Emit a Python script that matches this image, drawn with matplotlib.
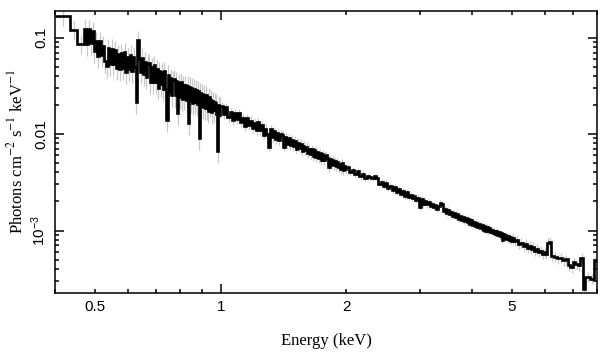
import numpy as np
import matplotlib
matplotlib.use("Agg")
import matplotlib.pyplot as plt
from matplotlib.ticker import FixedLocator, FuncFormatter, NullFormatter

plt.rcParams['mathtext.fontset'] = 'stix'

# Unfolded spectrum.
# *_edges: lower bin edges in keV, *_logflux: log10(photons cm^-2 s^-1 keV^-1)

first_edges = [0.400, 0.435, 0.452]
first_logflux = [-0.772, -0.917, -1.062]

soft_edges = [0.470, 0.475, 0.480, 0.485, 0.490, 0.495, 0.500, 0.505, 0.510, 0.515,
              0.520, 0.525, 0.530, 0.535, 0.540, 0.545, 0.550, 0.555, 0.560, 0.565,
              0.570, 0.575, 0.580, 0.585, 0.590, 0.595, 0.600, 0.605, 0.610, 0.615,
              0.620, 0.625, 0.630, 0.635, 0.640, 0.645, 0.650, 0.655, 0.660, 0.665,
              0.670, 0.675, 0.680, 0.685, 0.690, 0.695, 0.700, 0.705, 0.710, 0.715,
              0.720, 0.725, 0.730, 0.735, 0.740, 0.745, 0.750, 0.755, 0.760, 0.765,
              0.770, 0.775, 0.780, 0.785, 0.790, 0.795, 0.800, 0.805, 0.810, 0.815,
              0.820, 0.825, 0.830, 0.835, 0.840, 0.845, 0.850, 0.855, 0.860, 0.865,
              0.870, 0.875, 0.880, 0.885, 0.890, 0.895, 0.900, 0.905, 0.910, 0.915,
              0.920, 0.925, 0.930, 0.935, 0.940, 0.945, 0.950, 0.955, 0.960, 0.965,
              0.970, 0.975, 0.980, 0.985, 0.990, 0.995]
soft_logflux = [-0.908, -1.065, -0.912, -1.059, -0.936, -1.143, -1.040, -1.187, -1.034, -1.181,
                -1.085, -1.247, -1.299, -1.111, -1.273, -1.115, -1.277, -1.129, -1.311, -1.173,
                -1.330, -1.161, -1.312, -1.153, -1.355, -1.206, -1.328, -1.178, -1.348, -1.199,
                -1.300, -1.663, -1.030, -1.220, -1.360, -1.210, -1.380, -1.250, -1.410, -1.270,
                -1.264, -1.462, -1.310, -1.458, -1.286, -1.464, -1.322, -1.520, -1.348, -1.486,
                -1.356, -1.533, -1.351, -1.528, -1.850, -1.383, -1.561, -1.418, -1.596, -1.443,
                -1.430, -1.600, -1.450, -1.777, -1.470, -1.620, -1.460, -1.640, -1.490, -1.630,
                -1.490, -1.650, -1.500, -1.890, -1.510, -1.660, -1.520, -1.680, -1.530, -1.670,
                -1.540, -1.690, -1.550, -2.040, -1.570, -1.710, -1.580, -1.720, -1.590, -1.730,
                -1.600, -1.730, -1.760, -1.620, -1.700, -1.640, -1.770, -1.660, -1.750, -1.670,
                -1.680, -1.790, -2.180, -1.700, -1.800, -1.710]

mid_edges = [1.0000, 1.0125, 1.0250, 1.0375, 1.0500, 1.0625, 1.0750, 1.0875,
             1.1000, 1.1125, 1.1250, 1.1375, 1.1500, 1.1625, 1.1750, 1.1875,
             1.2000, 1.2125, 1.2250, 1.2375, 1.2500, 1.2625, 1.2750, 1.2875,
             1.3000, 1.3125, 1.3250, 1.3375, 1.3500, 1.3625, 1.3750, 1.3875,
             1.4000, 1.4125, 1.4250, 1.4375, 1.4500, 1.4625, 1.4750, 1.4875,
             1.5000, 1.5125, 1.5250, 1.5375, 1.5500, 1.5625, 1.5750, 1.5875,
             1.6000, 1.6125, 1.6250, 1.6375, 1.6500, 1.6625, 1.6750, 1.6875,
             1.7000, 1.7125, 1.7250, 1.7375, 1.7500, 1.7625, 1.7750, 1.7875,
             1.8000, 1.8125, 1.8250, 1.8375, 1.8500, 1.8625, 1.8750, 1.8875,
             1.9000, 1.9125, 1.9250, 1.9375, 1.9500, 1.9625, 1.9750, 1.9875]
mid_logflux = [-1.711, -1.792, -1.722, -1.823, -1.773, -1.854, -1.784, -1.845,
               -1.785, -1.874, -1.834, -1.914, -1.833, -1.903, -1.862, -1.942,
               -1.881, -1.960, -1.879, -1.958, -1.906, -2.005, -1.944, -2.003,
               -2.130, -1.950, -2.030, -1.970, -2.050, -1.990, -2.060, -2.000,
               -2.010, -2.130, -2.030, -2.100, -2.040, -2.110, -2.060, -2.120,
               -2.070, -2.150, -2.090, -2.140, -2.100, -2.180, -2.120, -2.170,
               -2.130, -2.200, -2.150, -2.210, -2.160, -2.230, -2.170, -2.240,
               -2.190, -2.250, -2.200, -2.270, -2.210, -2.270, -2.230, -2.220,
               -2.250, -2.340, -2.260, -2.310, -2.270, -2.320, -2.280, -2.330,
               -2.290, -2.340, -2.310, -2.360, -2.300, -2.370, -2.330, -2.360]

hard_edges = [2.00, 2.03, 2.06, 2.09, 2.12, 2.15, 2.18, 2.21, 2.24, 2.27,
              2.30, 2.33, 2.36, 2.39, 2.42, 2.45, 2.48, 2.51, 2.54, 2.57,
              2.60, 2.63, 2.66, 2.69, 2.72, 2.75, 2.78, 2.81, 2.84, 2.87,
              2.90, 2.93, 2.96, 2.99, 3.02, 3.05, 3.08, 3.11, 3.14, 3.17,
              3.20, 3.23, 3.26, 3.29, 3.32, 3.35, 3.38, 3.41, 3.44, 3.47,
              3.50, 3.53, 3.56, 3.59, 3.62, 3.65, 3.68, 3.71, 3.74, 3.77,
              3.80, 3.83, 3.86, 3.89, 3.92, 3.95, 3.98, 4.01, 4.04, 4.07,
              4.10, 4.13, 4.16, 4.19, 4.22, 4.25, 4.28, 4.31, 4.34, 4.37,
              4.40, 4.43, 4.46, 4.49, 4.52, 4.55, 4.58, 4.61, 4.64, 4.67,
              4.70, 4.73, 4.76, 4.79, 4.82, 4.85, 4.88, 4.91, 4.94, 4.97]
hard_logflux = [-2.34, -2.39, -2.37, -2.41, -2.38, -2.44, -2.41, -2.46, -2.43, -2.45,
                -2.46, -2.44, -2.46, -2.52, -2.50, -2.54, -2.51, -2.56, -2.54, -2.58,
                -2.55, -2.60, -2.57, -2.62, -2.59, -2.64, -2.60, -2.65, -2.63, -2.66,
                -2.64, -2.68, -2.66, -2.76, -2.67, -2.72, -2.69, -2.73, -2.70, -2.75,
                -2.72, -2.76, -2.74, -2.78, -2.75, -2.71, -2.72, -2.80, -2.78, -2.82,
                -2.79, -2.83, -2.81, -2.85, -2.82, -2.86, -2.83, -2.88, -2.85, -2.89,
                -2.86, -2.90, -2.87, -2.91, -2.88, -2.93, -2.89, -2.94, -2.91, -2.95,
                -2.92, -2.96, -2.93, -2.97, -2.94, -2.99, -2.95, -3.00, -2.96, -3.01,
                -2.97, -3.02, -2.99, -3.03, -3.00, -3.04, -3.01, -3.05, -3.02, -3.06,
                -3.03, -3.10, -3.04, -3.08, -3.05, -3.09, -3.06, -3.10, -3.07, -3.11]

fe_edges = [5.00, 5.06, 5.12, 5.18, 5.24, 5.30, 5.36, 5.42, 5.48, 5.54,
            5.60, 5.66, 5.72, 5.78, 5.84, 5.90, 5.96, 6.02, 6.08, 6.14,
            6.20, 6.30, 6.40, 6.50, 6.60, 6.70, 6.80, 6.90, 7.00, 7.10,
            7.20, 7.30, 7.40, 7.50, 7.70, 7.85]
fe_logflux = [-3.08, -3.11, -3.10, -3.14, -3.13, -3.16, -3.14, -3.18, -3.16, -3.19,
              -3.17, -3.21, -3.19, -3.22, -3.21, -3.24, -3.22, -3.24, -3.13, -3.12,
              -3.26, -3.27, -3.29, -3.28, -3.31, -3.30, -3.36, -3.38, -3.33, -3.35,
              -3.36, -3.28, -3.61, -3.48, -3.50, -3.32]
last_edge = 8.00

# rough 1-sigma fractional errors per energy band
first_rel_err = 0.22
soft_rel_err = 0.25
mid_rel_err = 0.11
hard_rel_err = 0.07
fe_rel_err = 0.12

x_major = [1]
x_minor = [0.4, 0.5, 0.6, 0.7, 0.8, 0.9, 2, 3, 4, 5, 6, 7, 8]
x_labelled = {0.5: '0.5', 1: '1', 2: '2', 5: '5'}
y_major = [1e-3, 1e-2, 1e-1]
y_labels = {1e-3: r'$\mathregular{10^{-3}}$', 1e-2: '0.01', 1e-1: '0.1'}

edges = np.array(first_edges + soft_edges + mid_edges + hard_edges + fe_edges + [last_edge])
flux = 10.0 ** np.array(first_logflux + soft_logflux + mid_logflux + hard_logflux + fe_logflux)
rel = np.concatenate([np.full(len(first_edges), first_rel_err),
                      np.full(len(soft_edges), soft_rel_err),
                      np.full(len(mid_edges), mid_rel_err),
                      np.full(len(hard_edges), hard_rel_err),
                      np.full(len(fe_edges), fe_rel_err)])
err = rel * flux
centers = np.sqrt(edges[:-1] * edges[1:])

fig = plt.figure(figsize=(6.09, 3.57), dpi=100)
ax = fig.add_axes([55 / 609, 1 - 293 / 357, 542 / 609, 282.3 / 357])

ax.errorbar(centers, flux, yerr=err, fmt='none', ecolor='#c8c8c8',
            elinewidth=0.9, zorder=1)
ax.stairs(flux, edges, baseline=None, color='black', linewidth=1.9, zorder=2)

ax.set_xscale('log')
ax.set_yscale('log')
ax.set_xlim(0.4, 8.0)
ax.set_ylim(2.25e-4, 0.19)

sans = 'Liberation Sans'
serif = 'Liberation Serif'

ax.xaxis.set_major_locator(FixedLocator(x_major))
ax.xaxis.set_minor_locator(FixedLocator(x_minor))
fmt_x = FuncFormatter(lambda v, p: x_labelled.get(round(v, 3), ''))
ax.xaxis.set_major_formatter(fmt_x)
ax.xaxis.set_minor_formatter(fmt_x)

ax.yaxis.set_major_locator(FixedLocator(y_major))
y_minor = [m * d for d in [1e-4, 1e-3, 1e-2, 1e-1] for m in range(2, 10)]
ax.yaxis.set_minor_locator(FixedLocator(y_minor))
ax.yaxis.set_major_formatter(FuncFormatter(lambda v, p: y_labels.get(v, '')))
ax.yaxis.set_minor_formatter(NullFormatter())

ax.tick_params(which='both', direction='in', top=True, right=True, width=1.1,
               labelsize=11, pad=5)
ax.tick_params(which='major', length=6.5)
ax.tick_params(which='minor', length=3.2)
for lab in ax.get_xticklabels(which='both') + ax.get_yticklabels():
    lab.set_fontfamily(sans)
for lab in ax.get_yticklabels():
    lab.set_rotation(90)
    lab.set_va('center')

for s in ax.spines.values():
    s.set_linewidth(1.1)

ax.set_xlabel('Energy (keV)', family=serif, fontsize=12, labelpad=14)
ax.set_ylabel(r'Photons cm$^{-2}$ s$^{-1}$ keV$^{-1}$', family=serif,
              fontsize=12, labelpad=2)

fig.savefig('out.png', dpi=100)
